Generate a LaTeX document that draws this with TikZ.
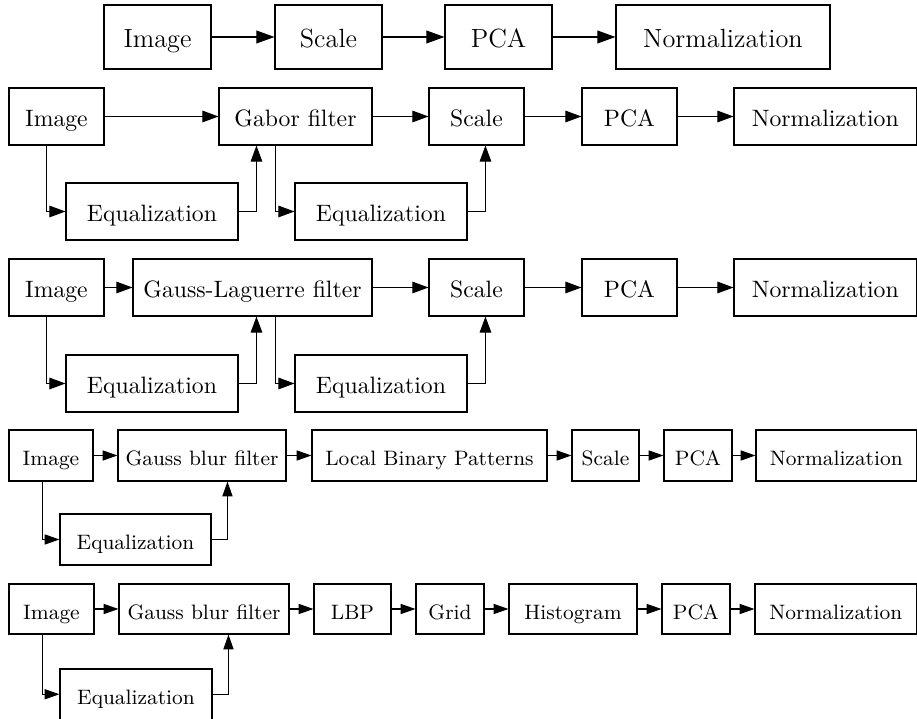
\documentclass[tikz,border=0pt]{standalone}
\usepackage{fontspec}
\usetikzlibrary{arrows.meta,calc}
\newcommand\fszA{\fontsize{11.1}{13.5}\selectfont}
\newcommand\fszB{\fontsize{10}{12}\selectfont}
\newcommand\fszC{\fontsize{8.8}{10.6}\selectfont}
\newcommand\mybox[7]{%
  \node[box, minimum width={(#4-#2)*0.422pt}, minimum height={(#5-#3)*0.422pt}, font=#6] (#1) at ({(#2+#4)/2},{(#3+#5)/2}) {#7};}
\tikzset{
  box/.style={draw, inner sep=0pt, line width=0.45pt, text height=0.86em, text depth=0pt},
  arrA/.style={-{Triangle[length=7.6pt,width=5.4pt]}, line width=0.45pt},
  arrB/.style={-{Triangle[length=6.8pt,width=4.9pt]}, line width=0.45pt},
  arrC/.style={-{Triangle[length=6.3pt,width=4.3pt]}, line width=0.45pt},
}
\begin{document}
\begin{tikzpicture}[x=0.422pt,y=-0.422pt]
\useasboundingbox (0,0) rectangle (917,719);
% Row 1
\mybox{imgA}{104}{5}{211}{69}{\fszA}{Image}
\mybox{scA}{275}{5}{382}{69}{\fszA}{Scale}
\mybox{pcaA}{445}{5}{552}{69}{\fszA}{PCA}
\mybox{normA}{616}{5}{830}{69}{\fszA}{Normalization}
\draw[arrA] (imgA) -- (scA);
\draw[arrA] (scA) -- (pcaA);
\draw[arrA] (pcaA) -- (normA);
% Row 2
\mybox{imgB}{9}{88}{104}{145}{\fszB}{Image}
\mybox{gabB}{219}{88}{372}{145}{\fszB}{Gabor filter}
\mybox{scB}{429}{88}{524}{145}{\fszB}{Scale}
\mybox{pcaB}{582}{88}{677}{145}{\fszB}{PCA}
\mybox{normB}{734}{88}{916.5}{145}{\fszB}{Normalization}
\mybox{eqBa}{66}{183}{238}{240}{\fszB}{Equalization}
\mybox{eqBb}{295}{183}{467}{240}{\fszB}{Equalization}
\draw[arrB] (imgB) -- (gabB);
\draw[arrB] (gabB) -- (scB);
\draw[arrB] (scB) -- (pcaB);
\draw[arrB] (pcaB) -- (normB);
\draw[arrB] ($(imgB.south west)+(38,0)$) |- (eqBa.west);
\draw[arrB] (eqBa.east) -| ($(gabB.south west)+(38,0)$);
\draw[arrB] ($(gabB.south west)+(57,0)$) |- (eqBb.west);
\draw[arrB] (eqBb.east) -| ($(scB.south west)+(57,0)$);
% Row 3
\mybox{imgC}{9}{259}{104}{316}{\fszB}{Image}
\mybox{glC}{133}{259}{372}{316}{\fszB}{Gauss-Laguerre filter}
\mybox{scC}{429}{259}{524}{316}{\fszB}{Scale}
\mybox{pcaC}{582}{259}{677}{316}{\fszB}{PCA}
\mybox{normC}{734}{259}{916.5}{316}{\fszB}{Normalization}
\mybox{eqCa}{66}{355}{238}{412}{\fszB}{Equalization}
\mybox{eqCb}{295}{355}{467}{412}{\fszB}{Equalization}
\draw[arrB] (imgC) -- (glC);
\draw[arrB] (glC) -- (scC);
\draw[arrB] (scC) -- (pcaC);
\draw[arrB] (pcaC) -- (normC);
\draw[arrB] ($(imgC.south west)+(38,0)$) |- (eqCa.west);
\draw[arrB] (eqCa.east) -| ($(glC.south west)+(124,0)$);
\draw[arrB] ($(glC.south west)+(143,0)$) |- (eqCb.west);
\draw[arrB] (eqCb.east) -| ($(scC.south west)+(57,0)$);
% Row 4
\mybox{imgD}{9}{430}{93}{481}{\fszC}{Image}
\mybox{gbD}{118}{430}{286}{481}{\fszC}{Gauss blur filter}
\mybox{lbpD}{312}{430}{547}{481}{\fszC}{Local Binary Patterns}
\mybox{scD}{572}{430}{639}{481}{\fszC}{Scale}
\mybox{pcaD}{664}{430}{732}{481}{\fszC}{PCA}
\mybox{normD}{756}{430}{916.5}{481}{\fszC}{Normalization}
\mybox{eqD}{60}{514}{211}{565}{\fszC}{Equalization}
\draw[arrC] (imgD) -- (gbD);
\draw[arrC] (gbD) -- (lbpD);
\draw[arrC] (lbpD) -- (scD);
\draw[arrC] (scD) -- (pcaD);
\draw[arrC] (pcaD) -- (normD);
\draw[arrC] ($(imgD.south west)+(34,0)$) |- (eqD.west);
\draw[arrC] (eqD.east) -| ($(gbD.south west)+(110,0)$);
% Row 5
\mybox{imgE}{9}{584}{94}{634}{\fszC}{Image}
\mybox{gbE}{119}{584}{289}{634}{\fszC}{Gauss blur filter}
\mybox{lbpE}{314}{584}{391}{634}{\fszC}{LBP}
\mybox{gridE}{416}{584}{484}{634}{\fszC}{Grid}
\mybox{histE}{509}{584}{637}{634}{\fszC}{Histogram}
\mybox{pcaE}{662}{584}{730}{634}{\fszC}{PCA}
\mybox{normE}{755}{584}{916.5}{634}{\fszC}{Normalization}
\mybox{eqE}{60}{669}{212}{719.5}{\fszC}{Equalization}
\draw[arrC] (imgE) -- (gbE);
\draw[arrC] (gbE) -- (lbpE);
\draw[arrC] (lbpE) -- (gridE);
\draw[arrC] (gridE) -- (histE);
\draw[arrC] (histE) -- (pcaE);
\draw[arrC] (pcaE) -- (normE);
\draw[arrC] ($(imgE.south west)+(34,0)$) |- (eqE.west);
\draw[arrC] (eqE.east) -| ($(gbE.south west)+(110,0)$);
\end{tikzpicture}
\end{document}
